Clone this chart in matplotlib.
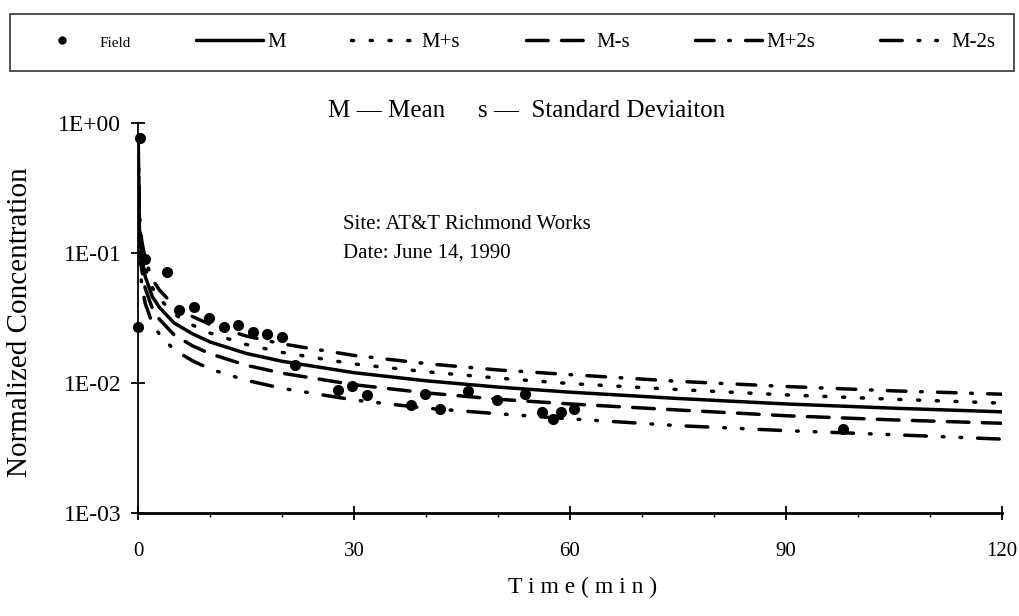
import matplotlib
matplotlib.use("Agg")
import matplotlib.pyplot as plt
from matplotlib.lines import Line2D
from matplotlib.ticker import FixedLocator, NullLocator, NullFormatter

plt.rcParams['font.family'] = ['Liberation Serif', 'DejaVu Serif']
plt.rcParams['lines.scale_dashes'] = False

# ---- data ----
time_model = [0.02, 0.2, 0.5, 1, 2, 3, 5, 7.5, 10, 15, 20, 30, 40, 50, 60, 75, 90, 105, 120]
mean_c     = [0.70, 0.15, 0.093, 0.066, 0.046, 0.038, 0.029, 0.024, 0.0207, 0.0169, 0.0147,
              0.0120, 0.0104, 0.0093, 0.0085, 0.0076, 0.0069, 0.0064, 0.0060]
plus_s     = [0.75, 0.175, 0.109, 0.077, 0.054, 0.0445, 0.034, 0.028, 0.0242, 0.0198, 0.0172,
              0.0140, 0.0122, 0.0109, 0.0099, 0.0089, 0.0081, 0.0075, 0.0070]
plus_2s    = [0.80, 0.20, 0.126, 0.090, 0.0625, 0.0517, 0.0394, 0.0326, 0.0282, 0.0230, 0.0200,
              0.0163, 0.0141, 0.0126, 0.0116, 0.0103, 0.0094, 0.0087, 0.0082]
minus_s    = [0.65, 0.12, 0.075, 0.0535, 0.0373, 0.0308, 0.0235, 0.0194, 0.0168, 0.0137, 0.0119,
              0.0097, 0.0084, 0.0075, 0.0069, 0.0062, 0.0056, 0.0052, 0.0049]
minus_2s   = [0.60, 0.093, 0.058, 0.041, 0.0285, 0.0236, 0.018, 0.0149, 0.0128, 0.0105, 0.0091,
              0.0074, 0.0064, 0.0058, 0.0053, 0.0047, 0.0043, 0.0040, 0.0037]

field_t = [0, 0.3, 1, 4, 5.7, 7.8, 9.9, 12, 13.9, 16, 17.9, 20, 21.8, 27.8, 29.7, 31.8,
           37.9, 39.8, 41.9, 45.9, 49.9, 53.8, 56.1, 57.7, 58.8, 60.6, 97.9]
field_c = [0.027, 0.77, 0.09, 0.0715, 0.0365, 0.0382, 0.0315, 0.0271, 0.0278, 0.0248, 0.0238,
           0.0227, 0.0137, 0.0088, 0.0094, 0.0081, 0.0068, 0.0083, 0.0063, 0.0087, 0.0074,
           0.0083, 0.0060, 0.0053, 0.0060, 0.0063, 0.0044]

x_ticks = [0, 30, 60, 90, 120]
x_minor = [10, 20, 40, 50, 70, 80, 100, 110]
y_ticks = [1e-3, 1e-2, 1e-1, 1e0]
y_labels = ['1E-03', '1E-02', '1E-01', '1E+00']

W, H = 1020, 616
fig = plt.figure(figsize=(W / 100, H / 100), dpi=100)
ax = fig.add_axes([138 / W, 1 - 513 / H, 864 / W, 390 / H])

lw = 2.5
kw = dict(color='black', lw=lw, dash_capstyle='round', solid_capstyle='round')
h_m, = ax.plot(time_model, mean_c, ls='-', label='M', **kw)
h_ps, = ax.plot(time_model, plus_s, ls=(0, (1.5, 12.0)), label='M+s', **kw)
h_ms, = ax.plot(time_model, minus_s, ls=(0, (15.6, 9.6)), label='M-s', **kw)
h_p2, = ax.plot(time_model, plus_2s, ls=(0, (13.4, 10.5, 1.2, 11.0)), label='M+2s', **kw)
h_m2, = ax.plot(time_model, minus_2s, ls=(0, (15.6, 11.5, 1.2, 11.5, 1.2, 11.5)),
                label='M-2s', **kw)
h_f, = ax.plot(field_t, field_c, ls='none', marker='o', ms=7, color='black',
               clip_on=False, label='Field')

ax.set_yscale('log')
ax.set_xlim(0, 120)
ax.set_ylim(1e-3, 1)
ax.xaxis.set_major_locator(FixedLocator(x_ticks))
ax.xaxis.set_minor_locator(FixedLocator(x_minor))
ax.yaxis.set_major_locator(FixedLocator(y_ticks))
ax.yaxis.set_minor_locator(NullLocator())
ax.yaxis.set_minor_formatter(NullFormatter())
ax.set_yticklabels(y_labels)
ax.set_xticklabels([str(v) for v in x_ticks])

for s in ['top', 'right']:
    ax.spines[s].set_visible(False)
ax.spines['left'].set_linewidth(1.3)
ax.spines['bottom'].set_linewidth(2.0)

ax.tick_params(axis='x', which='major', direction='inout', length=10, width=1.3,
               labelsize=15, pad=16)
ax.tick_params(axis='x', which='minor', direction='out', length=3, width=1.0)
ax.tick_params(axis='y', which='major', direction='inout', length=10, width=1.3,
               labelsize=17, pad=7)

ax.set_ylabel('Normalized Concentration', fontsize=21)
ax.yaxis.set_label_coords(-0.122, 0.49)
ax.set_xlabel('T i m e ( m i n )', fontsize=17)
ax.xaxis.set_label_coords(0.514, -0.165)

fig.text(328 / W, 1 - 117 / H, 'M \u2014 Mean', fontsize=18, va='baseline', ha='left')
fig.text(478 / W, 1 - 117 / H, 's \u2014  Standard Deviaiton', fontsize=18,
         va='baseline', ha='left')
fig.text(343 / W, 1 - 229 / H, 'Site: AT&T Richmond Works', fontsize=15,
         va='baseline', ha='left')
fig.text(343 / W, 1 - 258 / H, 'Date: June 14, 1990', fontsize=15,
         va='baseline', ha='left')

handles = [Line2D([], [], ls='none', marker='o', ms=5, color='black'),
           h_m, h_ps, h_ms, h_p2, h_m2]
labels = ['Field', 'M', 'M+s', 'M-s', 'M+2s', 'M-2s']
leg = fig.legend(handles, labels, loc='center',
                 bbox_to_anchor=(10 / W, 1 - 76 / H, 1004 / W, 67 / H),
                 mode='expand', ncol=6, borderaxespad=0, fontsize=15,
                 handlelength=3.2, handletextpad=0.2, fancybox=False,
                 frameon=True, borderpad=0.9)
leg.get_frame().set_edgecolor('black')
leg.get_frame().set_linewidth(1.2)
leg.get_texts()[0].set_fontsize(11)

fig.savefig('out.png', dpi=100, facecolor='white')
